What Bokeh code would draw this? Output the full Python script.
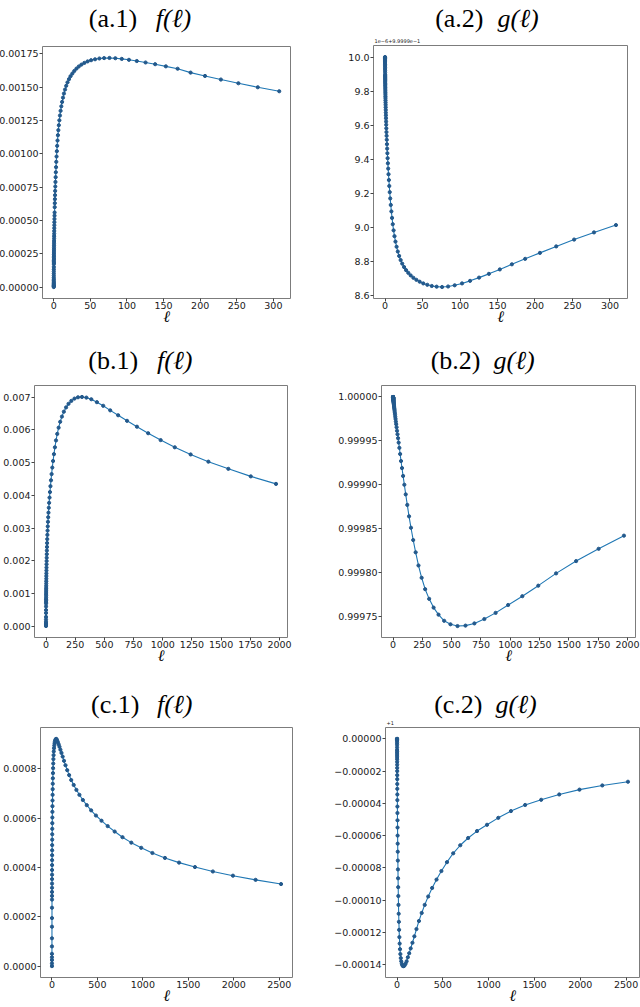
from bokeh.plotting import figure
from bokeh.layouts import column, row
from bokeh.models import FixedTicker, PrintfTickFormatter, CustomJSTickFormatter, Range1d
from bokeh.core.properties import value
from bokeh.embed import file_html
from bokeh.resources import INLINE

# ---------------- data ----------------
# grid (a): ell values
ell_a = [0, 0.0001, 0.0003, 0.0007, 0.0015, 0.003, 0.005, 0.008, 0.012, 0.018,
         0.026, 0.036, 0.048, 0.062, 0.08, 0.104, 0.115, 0.127, 0.140, 0.155,
         0.171, 0.190, 0.209, 0.231, 0.256, 0.283, 0.312, 0.345, 0.381, 0.421,
         0.466, 0.515, 0.569, 0.628, 0.694, 0.767, 0.848, 0.937, 1.04, 1.14,
         1.26, 1.40, 1.54, 1.71, 1.89, 2.08, 2.30, 2.55, 2.81, 3.11,
         3.44, 3.80, 4.19, 4.64, 5.12, 5.66, 6.26, 6.91, 7.64, 8.44,
         9.33, 10.3, 11.4, 12.6, 13.9, 15.4, 17.0, 18.8, 20.8, 22.9,
         25.4, 28.0, 31.0, 34.2, 37.8, 41.8, 46.2, 51.0, 56.4, 62.3,
         68.8, 76.1, 84.1, 92.9, 102.7, 113.4, 125.4, 138.5, 153.1, 169.2,
         186.9, 206.6, 228.3, 252.2, 278.7, 308]
f_a = [0, 0.000005, 0.000009, 0.000014, 0.000021, 0.000029, 0.000038, 0.000048, 0.000059, 0.000072,
       0.000086, 0.000101, 0.000117, 0.000133, 0.000151, 0.000172, 0.000181, 0.00019, 0.0002, 0.00021,
       0.00022, 0.000232, 0.000244, 0.000256, 0.00027, 0.000284, 0.000298, 0.000313, 0.000329, 0.000346,
       0.000364, 0.000382, 0.000401, 0.000421, 0.000442, 0.000464, 0.000487, 0.000511, 0.000536, 0.00056,
       0.0006, 0.00063, 0.00066, 0.00069, 0.000722, 0.000755, 0.000789, 0.000825, 0.000862, 0.0009,
       0.00094, 0.00098, 0.00102, 0.00106, 0.0011, 0.00114, 0.001178, 0.001215, 0.001252, 0.001288,
       0.001323, 0.001357, 0.00139, 0.001422, 0.001453, 0.001483, 0.001511, 0.001537, 0.001561, 0.001583,
       0.001603, 0.001622, 0.00164, 0.001656, 0.00167, 0.001683, 0.001694, 0.001703, 0.00171, 0.001716,
       0.001719, 0.00172, 0.001718, 0.001713, 0.001706, 0.001697, 0.001686, 0.001673, 0.001657, 0.001639,
       0.00161, 0.001585, 0.001558, 0.00153, 0.0015, 0.00147]
# g on grid (a), shown as (g - 0.99999) / 1e-6
g_a_scaled = [10.0, 9.9968, 9.9945, 9.9915, 9.9876, 9.9825, 9.9774, 9.9714, 9.965, 9.957,
              9.948, 9.939, 9.93, 9.92, 9.909, 9.897, 9.891, 9.886, 9.88, 9.874,
              9.868, 9.861, 9.854, 9.846, 9.838, 9.83, 9.821, 9.812, 9.802, 9.792,
              9.782, 9.77, 9.759, 9.746, 9.733, 9.72, 9.705, 9.69, 9.674, 9.658,
              9.641, 9.622, 9.603, 9.582, 9.56, 9.538, 9.515, 9.489, 9.463, 9.436,
              9.407, 9.377, 9.346, 9.313, 9.279, 9.244, 9.208, 9.171, 9.133, 9.095,
              9.057, 9.02, 8.984, 8.95, 8.918, 8.888, 8.86, 8.834, 8.81, 8.789,
              8.769, 8.751, 8.735, 8.72, 8.706, 8.694, 8.683, 8.673, 8.665, 8.658,
              8.654, 8.652, 8.655, 8.662, 8.673, 8.688, 8.707, 8.729, 8.755, 8.785,
              8.817, 8.852, 8.89, 8.93, 8.972, 9.015]

# grid (b)
ell_b = [0, 0.001, 0.005, 0.01, 0.02, 0.05, 0.1, 0.2, 0.3, 0.45,
         0.59, 0.66, 0.74, 0.83, 0.93, 1.05, 1.17, 1.32, 1.48, 1.66,
         1.87, 2.1, 2.36, 2.65, 2.97, 3.34, 3.75, 4.21, 4.72, 5.3,
         5.96, 6.7, 7.5, 8.4, 9.5, 10.6, 11.9, 13.4, 15.1, 16.9,
         19.0, 21.3, 24.0, 26.9, 30.2, 33.9, 38.1, 42.8, 48.0, 54.0,
         60.6, 68.0, 76.4, 85.8, 96.4, 108.2, 121.5, 136.5, 153, 172,
         193, 217, 244, 274, 308, 346, 388, 436, 490, 550,
         618, 694, 779, 875, 982, 1103, 1239, 1391, 1562, 1754,
         1970]
f_b = [0, 0.00003, 0.00006, 0.00009, 0.00013, 0.0002, 0.00028, 0.0004, 0.00049, 0.0006,
       0.00069, 0.00073, 0.00078, 0.00082, 0.00087, 0.00093, 0.00098, 0.00104, 0.0011, 0.00116,
       0.00123, 0.0013, 0.00137, 0.00145, 0.00153, 0.00161, 0.0017, 0.00179, 0.00189, 0.00199,
       0.00209, 0.0022, 0.00231, 0.00242, 0.00254, 0.00266, 0.00279, 0.00292, 0.00305, 0.00319,
       0.00333, 0.00347, 0.00362, 0.00377, 0.00393, 0.0041, 0.00428, 0.00446, 0.00465, 0.00485,
       0.00505, 0.00526, 0.00547, 0.00568, 0.00588, 0.00607, 0.00625, 0.00641, 0.00656, 0.00669,
       0.0068, 0.00689, 0.00696, 0.007, 0.00701, 0.00699, 0.00694, 0.00685, 0.00674, 0.0066,
       0.00645, 0.00628, 0.0061, 0.0059, 0.00569, 0.00547, 0.00525, 0.00503, 0.00481, 0.00458,
       0.00435]
# 1 - g on grid (b), in units of 1e-5
g_b_drop = [0, 0.0005, 0.001, 0.002, 0.004, 0.008, 0.015, 0.028, 0.04, 0.055,
            0.07, 0.08, 0.09, 0.1, 0.11, 0.125, 0.14, 0.16, 0.18, 0.2,
            0.22, 0.25, 0.28, 0.32, 0.36, 0.4, 0.45, 0.51, 0.57, 0.64,
            0.72, 0.81, 0.91, 1.02, 1.14, 1.28, 1.43, 1.6, 1.8, 2.0,
            2.25, 2.5, 2.8, 3.1, 3.45, 3.85, 4.25, 4.7, 5.2, 5.8,
            6.5, 7.3, 8.1, 9.0, 10.0, 11.1, 12.3, 13.6, 14.9, 16.3,
            17.7, 19.2, 20.6, 21.9, 23.0, 24.0, 24.8, 25.5, 25.9, 26.1,
            26.05, 25.8, 25.3, 24.6, 23.7, 22.7, 21.5, 20.1, 18.7, 17.3,
            15.8]

# grid (c)
ell_c = [0, 0.001, 0.005, 0.01, 0.02, 0.05, 0.1, 0.2, 0.3, 0.45,
         0.59, 0.66, 0.74, 0.84, 0.94, 1.06, 1.19, 1.34, 1.51, 1.7,
         1.91, 2.15, 2.42, 2.72, 3.06, 3.44, 3.87, 4.36, 4.9, 5.52,
         6.21, 6.98, 7.86, 8.84, 9.94, 11.2, 12.6, 14.1, 15.9, 17.9,
         20.1, 22.7, 25.5, 28.7, 32.3, 36.3, 40.8, 45.9, 51.7, 58.1,
         65.4, 73.6, 82.8, 93.1, 104.8, 117.9, 132.6, 149, 168, 189,
         212, 239, 269, 302, 340, 383, 431, 484, 545, 613,
         690, 776, 873, 982, 1105, 1243, 1398, 1573, 1770, 1991,
         2240, 2520]
f_c = [0, 0.000011, 0.000025, 0.000036, 0.00005, 0.00008, 0.000113, 0.00016, 0.000195, 0.000237,
       0.00027, 0.000285, 0.000301, 0.000318, 0.000335, 0.000353, 0.000371, 0.00039, 0.00041, 0.00043,
       0.00045, 0.00047, 0.000491, 0.000513, 0.000535, 0.000557, 0.00058, 0.000603, 0.000626, 0.000649,
       0.000672, 0.000695, 0.000718, 0.00074, 0.000762, 0.000783, 0.000803, 0.000822, 0.00084, 0.000856,
       0.000871, 0.000884, 0.000895, 0.000904, 0.000911, 0.000916, 0.00092, 0.000922, 0.00092, 0.000914,
       0.000908, 0.0009, 0.00089, 0.000878, 0.000865, 0.00085, 0.000833, 0.000815, 0.000795, 0.000775,
       0.000755, 0.000735, 0.000715, 0.000695, 0.000674, 0.000653, 0.000632, 0.000611, 0.00059, 0.000568,
       0.000546, 0.000523, 0.000501, 0.00048, 0.000459, 0.000439, 0.00042, 0.000402, 0.000384, 0.000367,
       0.00035, 0.000333]
# g - 1 on grid (c)
g_c_minus_one = [0, -0.001e-5, -0.006e-5, -0.012e-5, -0.025e-5, -0.06e-5, -0.12e-5, -0.24e-5, -0.36e-5, -0.53e-5,
                 -0.69e-5, -0.78e-5, -0.88e-5, -1.0e-5, -1.12e-5, -1.26e-5, -1.42e-5, -1.6e-5, -1.8e-5, -2.0e-5,
                 -2.25e-5, -2.5e-5, -2.8e-5, -3.1e-5, -3.45e-5, -3.8e-5, -4.2e-5, -4.6e-5, -5.05e-5, -5.5e-5,
                 -6.0e-5, -6.5e-5, -7.0e-5, -7.55e-5, -8.1e-5, -8.65e-5, -9.2e-5, -9.75e-5, -10.3e-5, -10.85e-5,
                 -11.35e-5, -11.85e-5, -12.3e-5, -12.7e-5, -13.05e-5, -13.35e-5, -13.6e-5, -13.8e-5, -13.95e-5, -14.05e-5,
                 -14.1e-5, -14.1e-5, -14.05e-5, -13.95e-5, -13.8e-5, -13.55e-5, -13.3e-5, -13.0e-5, -12.65e-5, -12.25e-5,
                 -11.8e-5, -11.3e-5, -10.8e-5, -10.3e-5, -9.78e-5, -9.25e-5, -8.73e-5, -8.2e-5, -7.65e-5, -7.1e-5,
                 -6.6e-5, -6.15e-5, -5.72e-5, -5.33e-5, -4.9e-5, -4.48e-5, -4.1e-5, -3.78e-5, -3.45e-5, -3.15e-5,
                 -2.89e-5, -2.66e-5]

# tick positions
xticks_a = [0, 50, 100, 150, 200, 250, 300]
xticks_b = [0, 250, 500, 750, 1000, 1250, 1500, 1750, 2000]
xticks_c = [0, 500, 1000, 1500, 2000, 2500]
yticks_a1 = [0, 0.00025, 0.0005, 0.00075, 0.001, 0.00125, 0.0015, 0.00175]
yticks_a2 = [8.6, 8.8, 9.0, 9.2, 9.4, 9.6, 9.8, 10.0]
yticks_b1 = [0, 0.001, 0.002, 0.003, 0.004, 0.005, 0.006, 0.007]
yticks_b2 = [0.99975, 0.9998, 0.99985, 0.9999, 0.99995, 1.0]
yticks_c1 = [0, 0.0002, 0.0004, 0.0006, 0.0008]
yticks_c2 = [0, -0.00002, -0.00004, -0.00006, -0.00008, -0.0001, -0.00012, -0.00014]

g_b = [1 - d * 1e-5 for d in g_b_drop]

# ---------------- styling ----------------
LINE = "#1f77b4"
DOT = "#23598c"
TICK_FONT = "DejaVu Sans"
TITLE_FONT = '"Liberation Serif"'
TITLE_SIZE = "26px"
NOTE_SIZE = "5px"


def caption_strip(width, height, left, right, tag, fname, tag_right, name_left, base,
                  margin=None, offset_text=None):
    """Thin canvas above a panel that carries its caption such as '(a.1) f(l)'.

    It uses the same side borders as the panel below it, and its x range is set so
    that one unit is one pixel measured from the canvas' left edge."""
    opts = dict(width=width, height=height, output_backend="svg", toolbar_location=None,
                x_range=Range1d(left, width - right), y_range=Range1d(0, height),
                x_axis_location=None, y_axis_location=None, title=None,
                min_border_left=left, min_border_right=right,
                min_border_top=0, min_border_bottom=0,
                outline_line_color=None, background_fill_color="white",
                border_fill_color="white")
    if margin is not None:
        opts["margin"] = margin
    s = figure(**opts)
    s.xgrid.visible = False
    s.ygrid.visible = False
    s.text(x=[tag_right], y=[base], text=[tag], text_font=value(TITLE_FONT),
           text_font_size=TITLE_SIZE, text_align="right", text_baseline="bottom",
           text_color="black")
    s.text(x=[name_left], y=[base], text=[fname], text_font=value(TITLE_FONT),
           text_font_size=TITLE_SIZE, text_font_style="italic", text_align="left",
           text_baseline="bottom", text_color="black")
    if offset_text:
        # axis offset note, sitting on the panel's top-left corner
        s.text(x=[left + 1], y=[1], text=[offset_text], text_font=value(TICK_FONT),
               text_font_size=NOTE_SIZE, text_align="left", text_baseline="bottom",
               text_color="#1a1a1a")
    return s


def panel(x, y, xticks, yticks, yfmt, width, height, left, right, top, bottom, margin=None):
    opts = dict(width=width, height=height, output_backend="svg", toolbar_location=None,
                min_border_left=left, min_border_right=right,
                min_border_top=top, min_border_bottom=bottom,
                background_fill_color="white", border_fill_color="white")
    if margin is not None:
        opts["margin"] = margin
    p = figure(**opts)
    p.xgrid.visible = False
    p.ygrid.visible = False
    p.outline_line_color = "#7c7c7c"
    p.outline_line_width = 1

    p.line(x, y, line_color=LINE, line_width=1.1)
    p.scatter(x, y, size=3.2, fill_color=DOT, line_color=DOT)

    p.xaxis.ticker = FixedTicker(ticks=xticks)
    p.xaxis.formatter = PrintfTickFormatter(format="%d")
    p.yaxis.ticker = FixedTicker(ticks=yticks)
    p.yaxis.formatter = yfmt
    for ax in (p.xaxis[0], p.yaxis[0]):
        ax.axis_line_color = None
        ax.major_tick_line_color = "#444444"
        ax.minor_tick_line_color = None
        ax.major_tick_out = 3
        ax.major_tick_in = 0
        ax.major_label_text_font = TICK_FONT
        ax.major_label_text_font_size = "9.5px"
        ax.major_label_text_color = "#1a1a1a"
    p.xaxis.major_label_standoff = 0
    p.yaxis.major_label_standoff = 1
    p.xaxis.axis_label = "\u2113"
    p.xaxis.axis_label_text_font = "DejaVu Serif"
    p.xaxis.axis_label_text_font_style = "italic"
    p.xaxis.axis_label_text_font_size = "16px"
    p.xaxis.axis_label_text_color = "black"
    p.xaxis.axis_label_standoff = -5
    return p


minus_fmt = CustomJSTickFormatter(code="return tick.toFixed(5).replace('-', '\\u2212');")

# row (a): 0..330
s_a1 = caption_strip(324, 43, 44, 26, "(a.1)", "f(\u2113)", 141, 160, 10.5, margin=(0, 0, 0, -4))
a1 = panel(ell_a, f_a, xticks_a, yticks_a1, PrintfTickFormatter(format="%.5f"),
           324, 287, 44, 26, 3, 32, margin=(0, 0, 0, -4))
s_a2 = caption_strip(320, 43, 53, 13, "(a.2)", "g(\u2113)", 163, 177, 10.5,
                     offset_text="1e\u22126+9.9999e\u22121")
a2 = panel(ell_a, g_a_scaled, xticks_a, yticks_a2, PrintfTickFormatter(format="%.1f"),
           320, 287, 53, 13, 2, 32)

# row (b): 330..668
s_b1 = caption_strip(320, 52, 33, 33, "(b.1)", "f(\u2113)", 137, 156, 7.5)
b1 = panel(ell_b, f_b, xticks_b, yticks_b1, PrintfTickFormatter(format="%.3f"),
           320, 286, 33, 33, 3, 31)
s_b2 = caption_strip(320, 52, 61, 5, "(b.2)", "g(\u2113)", 160, 173, 7.5)
b2 = panel(ell_b, g_b, xticks_b, yticks_b2, PrintfTickFormatter(format="%.5f"),
           320, 286, 61, 5, 3, 31)

# row (c): 668..1007
s_c1 = caption_strip(320, 57, 37, 28, "(c.1)", "f(\u2113)", 137, 155, 6.5)
c1 = panel(ell_c, f_c, xticks_c, yticks_c1, PrintfTickFormatter(format="%.4f"),
           320, 282, 37, 28, 2, 28)
s_c2 = caption_strip(320, 57, 65, 1, "(c.2)", "g(\u2113)", 162, 175, 6.5,
                     offset_text="+1")
c2 = panel(ell_c, g_c_minus_one, xticks_c, yticks_c2, minus_fmt,
           320, 282, 65, 1, 2, 28)


def cell(strip, plot):
    return column(strip, plot, spacing=0)


layout = column(
    row(cell(s_a1, a1), cell(s_a2, a2), spacing=0),
    row(cell(s_b1, b1), cell(s_b2, b2), spacing=0),
    row(cell(s_c1, c1), cell(s_c2, c2), spacing=0),
    spacing=0,
)

open("out.html", "w").write(file_html(layout, INLINE))
